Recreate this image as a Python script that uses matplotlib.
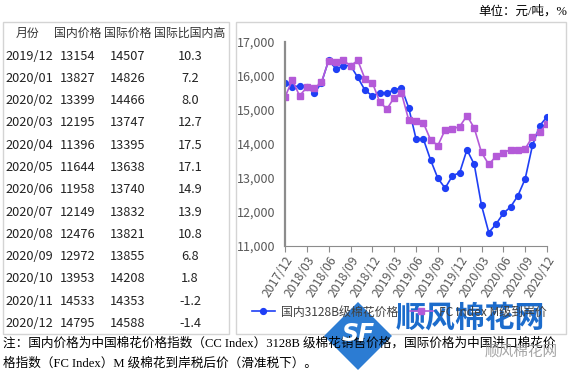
import matplotlib.pyplot as plt
from matplotlib.patches import Rectangle, Polygon
from matplotlib.ticker import FuncFormatter

plt.rcParams['font.family'] = ['Noto Sans CJK SC', 'DejaVu Sans']

# table (2019/12 - 2020/12)
months = ['2019/12', '2020/01', '2020/02', '2020/03', '2020/04', '2020/05', '2020/06',
          '2020/07', '2020/08', '2020/09', '2020/10', '2020/11', '2020/12']
domestic = [13154, 13827, 13399, 12195, 11396, 11644, 11958, 12149, 12476, 12972, 13953, 14533, 14795]
intl = [14507, 14826, 14466, 13747, 13395, 13638, 13740, 13832, 13821, 13855, 14208, 14353, 14588]
diff = ['10.3', '7.2', '8.0', '12.7', '17.5', '17.1', '14.9', '13.9', '10.8', '6.8', '1.8', '-1.2', '-1.4']
headers = ['月份', '国内价格', '国际价格', '国际比国内高']

# chart series, monthly 2017/12 - 2020/12
cc_index = [15800, 15680, 15700, 15680, 15485, 15780, 16460, 16200, 16290, 16300,
            15950, 15570, 15410, 15500, 15500, 15580, 15650, 15060, 14150, 14150,
            13530, 12990, 12700, 13060] + domestic
fc_index = [15370, 15880, 15410, 15660, 15630, 15810, 16440, 16390, 16460, 16290,
            16450, 15900, 15800, 15240, 15020, 15360, 15490, 14700, 14670, 14620,
            14120, 13950, 14410, 14440] + intl
tick_labels = ['2017/12', '2018/03', '2018/06', '2018/09', '2018/12', '2019/03', '2019/06',
               '2019/09', '2019/12', '2020/03', '2020/06', '2020/09', '2020/12']
legend_labels = ['国内3128B级棉花价格', 'FC Index M级到岸价']

W, H = 571, 374
fig = plt.figure(figsize=(W / 100, H / 100), dpi=100)


def fx(px):
    return px / W


def fy(py):
    return 1 - py / H


# boxes
fig.patches.append(Rectangle((fx(3), fy(334)), fx(226), 312 / H, transform=fig.transFigure,
                             fill=False, edgecolor='#d4d4d4', lw=1))
fig.patches.append(Rectangle((fx(236), fy(334)), fx(330), 312 / H, transform=fig.transFigure,
                             fill=False, edgecolor='#d4d4d4', lw=1))

# table text
col_x = [28, 78, 128, 190]
row_h = 22.3
for c, h in enumerate(headers):
    fig.text(fx(col_x[c]), fy(33), h, ha='center', va='center', fontsize=8.6, color='#333333')
for r in range(len(months)):
    y = fy(56 + r * row_h)
    fig.text(fx(5), y, months[r], ha='left', va='center', fontsize=9.2, color='#222222')
    fig.text(fx(col_x[1]), y, str(domestic[r]), ha='center', va='center', fontsize=9.2, color='#222222')
    fig.text(fx(col_x[2]), y, str(intl[r]), ha='center', va='center', fontsize=9.2, color='#222222')
    fig.text(fx(col_x[3]), y, diff[r], ha='center', va='center', fontsize=9.2, color='#222222')

# chart
ax = fig.add_axes([fx(285), fy(246), fx(262), (246 - 41.7) / H])
x = list(range(len(cc_index)))
l1, = ax.plot(x, cc_index, color='#1f3ff5', marker='o', ms=4.2, lw=1.2)
l2, = ax.plot(x, fc_index, color='#b45ad8', marker='s', ms=4.2, lw=1.2)
ax.set_xlim(0, 36)
ax.set_ylim(11000, 17000)
ax.set_yticks(range(11000, 17001, 1000))
ax.yaxis.set_major_formatter(FuncFormatter(lambda v, p: f'{int(v):,}'))
ax.set_xticks(range(0, 37, 3))
ax.set_xticklabels(tick_labels, rotation=58, ha='right', va='top', rotation_mode='anchor')
for s in ['top', 'right']:
    ax.spines[s].set_visible(False)
ax.spines['left'].set_color('#8c8c8c')
ax.spines['left'].set_linewidth(1.6)
ax.spines['bottom'].set_color('#8c8c8c')
ax.tick_params(axis='y', length=0, labelsize=9, labelcolor='#595959', pad=7)
ax.tick_params(axis='x', length=4, color='#8c8c8c', labelsize=8.8, labelcolor='#595959', pad=2)
fig.legend([l1, l2], legend_labels, loc='center left', bbox_to_anchor=(fx(252), fy(312)),
           ncol=2, frameon=False, fontsize=8.6, handlelength=1.9, columnspacing=1.0,
           labelcolor='#404040', borderaxespad=0, borderpad=0, handletextpad=0.5)

# unit + note
fig.text(fx(567), fy(11), '单位：元/吨，%', ha='right', va='center', fontsize=9,
         family=['Liberation Serif', 'Noto Sans CJK SC'])
note1 = '注：国内价格为中国棉花价格指数（CC Index）3128B 级棉花销售价格，国际价格为中国进口棉花价'
note2 = '格指数（FC Index）M 级棉花到岸税后价（滑准税下）。'
fig.text(fx(3), fy(343), note1, ha='left', va='center', fontsize=9.1,
         family=['Liberation Serif', 'Noto Sans CJK SC'])
fig.text(fx(3), fy(363), note2, ha='left', va='center', fontsize=9.1,
         family=['Liberation Serif', 'Noto Sans CJK SC'])

# watermark
cx, cy, r = 358, 336, 34
fig.patches.append(Polygon([(fx(cx), fy(cy - r)), (fx(cx + r), fy(cy)), (fx(cx), fy(cy + r)),
                            (fx(cx - r), fy(cy))], closed=True, transform=fig.transFigure,
                           facecolor='#2c7cd3', edgecolor='none'))
fig.text(fx(cx), fy(cy - 2), 'SF', ha='center', va='center', fontsize=17, color='white',
         fontweight='bold', style='italic', family='DejaVu Sans')
fig.text(fx(396), fy(318), '顺风棉花网', ha='left', va='center', fontsize=21.5,
         color='#1c6ccc', fontweight='bold')
fig.text(fx(485), fy(352), '顺风棉花网', ha='left', va='center', fontsize=10.5,
         color='#9a9a9a', alpha=0.9)

fig.savefig('out.png', dpi=100)
